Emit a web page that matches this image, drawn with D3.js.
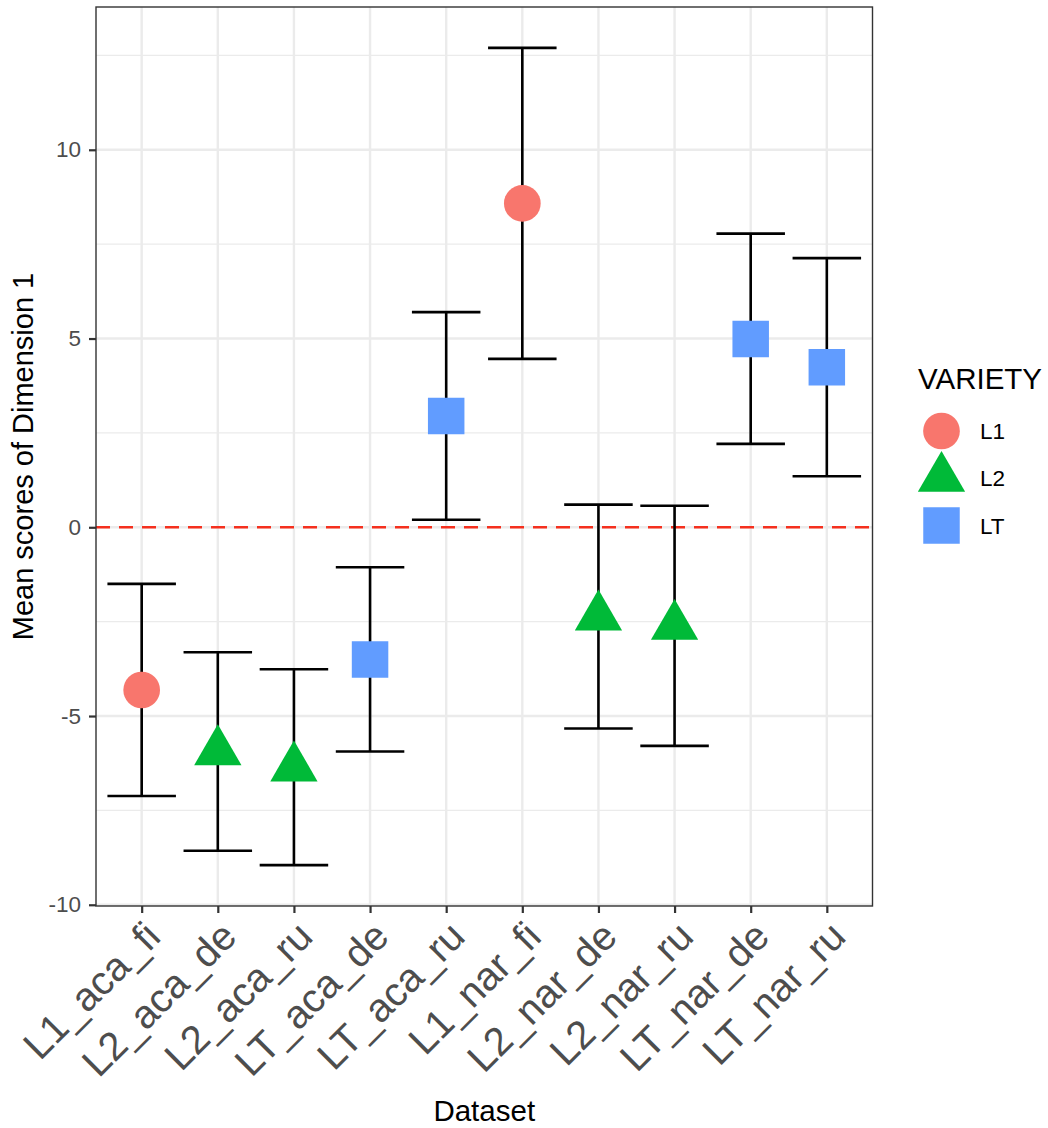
<!DOCTYPE html>
<html>
<head>
<meta charset="utf-8">
<script src="https://cdn.jsdelivr.net/npm/d3@7"></script>
<style>
  body { margin: 0; background: #fff; }
  svg { display: block; font-family: "Liberation Sans", Arial, Helvetica, sans-serif; }
</style>
</head>
<body>
<div id="chart"></div>
<script>
// data
const datasets = ["L1_aca_fi", "L2_aca_de", "L2_aca_ru", "LT_aca_de", "LT_aca_ru",
                  "L1_nar_fi", "L2_nar_de", "L2_nar_ru", "LT_nar_de", "LT_nar_ru"];
const variety = ["L1", "L2", "L2", "LT", "LT", "L1", "L2", "L2", "LT", "LT"];
const means = [-4.31, -5.94, -6.37, -3.50, 2.95, 8.58, -2.37, -2.62, 4.99, 4.24];
const lower = [-7.12, -8.57, -8.95, -5.94, 0.20, 4.46, -5.33, -5.79, 2.21, 1.35];
const upper = [-1.50, -3.31, -3.76, -1.06, 5.70, 12.70, 0.60, 0.57, 7.78, 7.13];
const varieties = ["L1", "L2", "LT"];
const yTicks = [-10, -5, 0, 5, 10];
const yMinor = [-7.5, -2.5, 2.5, 7.5, 12.5];

const width = 1048, height = 1128;
const panel = { left: 96, right: 872.5, top: 7, bottom: 906 };

const colors = d3.scaleOrdinal().domain(varieties).range(["#F8766D", "#00BA38", "#619CFF"]);
const shapes = d3.scaleOrdinal().domain(varieties).range([d3.symbolCircle, d3.symbolTriangle, d3.symbolSquare]);
const sizes = { L1: 1058, L2: 968, LT: 1332 };

const rows = datasets.map((d, i) => ({ name: d, variety: variety[i], mean: means[i], lo: lower[i], hi: upper[i] }));

const x = d3.scalePoint().domain(datasets).range([panel.left, panel.right]).padding(0.6);
const lo = d3.min(lower), hi = d3.max(upper);
const pad = (hi - lo) * 0.05;
const y = d3.scaleLinear().domain([lo - pad, hi + pad]).range([panel.bottom, panel.top]);

const svg = d3.select("#chart").append("svg")
    .attr("width", width)
    .attr("height", height);

svg.append("rect").attr("width", width).attr("height", height).attr("fill", "#fff");

// grid
const grid = svg.append("g");
grid.selectAll(".minor").data(yMinor.filter(v => y(v) >= panel.top)).join("line")
    .attr("x1", panel.left).attr("x2", panel.right)
    .attr("y1", d => y(d)).attr("y2", d => y(d))
    .attr("stroke", "#EBEBEB").attr("stroke-width", 1.3);
grid.selectAll(".major").data(yTicks).join("line")
    .attr("x1", panel.left).attr("x2", panel.right)
    .attr("y1", d => y(d)).attr("y2", d => y(d))
    .attr("stroke", "#EBEBEB").attr("stroke-width", 2.4);
grid.selectAll(".vmajor").data(datasets).join("line")
    .attr("x1", d => x(d)).attr("x2", d => x(d))
    .attr("y1", panel.top).attr("y2", panel.bottom)
    .attr("stroke", "#EBEBEB").attr("stroke-width", 2.4);

// reference line at 0
svg.append("line")
    .attr("x1", panel.left).attr("x2", panel.right)
    .attr("y1", y(0)).attr("y2", y(0))
    .attr("stroke", "#F5301E").attr("stroke-width", 2.6)
    .attr("stroke-dasharray", "14,9");

// error bars
const capHalf = x.step() * 0.45;
const bars = svg.append("g").attr("stroke", "#000").attr("stroke-width", 2.6).attr("fill", "none");
bars.selectAll(".v").data(rows).join("line")
    .attr("x1", d => x(d.name)).attr("x2", d => x(d.name))
    .attr("y1", d => y(d.lo)).attr("y2", d => y(d.hi));
bars.selectAll(".top").data(rows).join("line")
    .attr("x1", d => x(d.name) - capHalf).attr("x2", d => x(d.name) + capHalf)
    .attr("y1", d => y(d.hi)).attr("y2", d => y(d.hi));
bars.selectAll(".bot").data(rows).join("line")
    .attr("x1", d => x(d.name) - capHalf).attr("x2", d => x(d.name) + capHalf)
    .attr("y1", d => y(d.lo)).attr("y2", d => y(d.lo));

// points
svg.append("g").selectAll("path").data(rows).join("path")
    .attr("transform", d => `translate(${x(d.name)},${y(d.mean)})`)
    .attr("d", d => d3.symbol(shapes(d.variety), sizes[d.variety])())
    .attr("fill", d => colors(d.variety));

// panel border
svg.append("rect")
    .attr("x", panel.left).attr("y", panel.top)
    .attr("width", panel.right - panel.left).attr("height", panel.bottom - panel.top)
    .attr("fill", "none").attr("stroke", "#333").attr("stroke-width", 1.4);

// y axis
const yAxis = svg.append("g")
    .attr("transform", `translate(${panel.left},0)`)
    .call(d3.axisLeft(y).tickValues(yTicks).tickSize(7).tickPadding(8).tickFormat(d3.format("d")));
yAxis.select(".domain").remove();
yAxis.selectAll(".tick line").attr("stroke", "#333").attr("stroke-width", 2.2);
yAxis.selectAll(".tick text").attr("fill", "#4D4D4D").style("font-size", "22.5px")
    .text(d => String(d));

// x axis, labels rotated 45 degrees
const xAxis = svg.append("g")
    .attr("transform", `translate(0,${panel.bottom})`)
    .call(d3.axisBottom(x).tickSize(7).tickPadding(0));
xAxis.select(".domain").remove();
xAxis.selectAll(".tick line").attr("stroke", "#333").attr("stroke-width", 2.2);
xAxis.selectAll(".tick text")
    .attr("fill", "#4D4D4D").style("font-size", "40px")
    .attr("text-anchor", "end")
    .attr("y", 0)
    .attr("transform", "translate(0,12.5) rotate(-45)")
    .attr("dy", "0.72em");

// axis titles
svg.append("text")
    .attr("x", (panel.left + panel.right) / 2).attr("y", 1121)
    .attr("text-anchor", "middle").style("font-size", "29.5px").attr("fill", "#000")
    .text("Dataset");
svg.append("text")
    .attr("transform", `translate(33,${(panel.top + panel.bottom) / 2}) rotate(-90)`)
    .attr("text-anchor", "middle").style("font-size", "29px").attr("fill", "#000")
    .text("Mean scores of Dimension 1");

// legend
const legend = svg.append("g");
legend.append("text").attr("x", 918).attr("y", 389)
    .style("font-size", "29.5px").attr("fill", "#000").text("VARIETY");
const keys = legend.selectAll(".key").data(varieties).join("g")
    .attr("transform", (d, i) => `translate(941.5,${431 + i * 47.2})`);
keys.append("path")
    .attr("d", d => d3.symbol(shapes(d), sizes[d])())
    .attr("fill", d => colors(d));
keys.append("text").attr("x", 38.5).attr("dy", "0.36em")
    .style("font-size", "22.5px").attr("fill", "#000").text(d => d);
</script>
</body>
</html>
